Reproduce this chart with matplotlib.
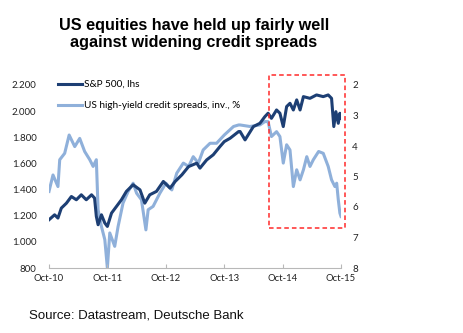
import matplotlib
matplotlib.use("Agg")
import matplotlib.pyplot as plt
import matplotlib.dates as mdates
import pandas as pd
from matplotlib.patches import Rectangle
from matplotlib.ticker import FuncFormatter

title = "US equities have held up fairly well\nagainst widening credit spreads"
source = "Source: Datastream, Deutsche Bank"
label_spx = "S&P 500, lhs"
label_hy = "US high-yield credit spreads, inv., %"

spx_dates = ["2010-10-01", "2010-11-05", "2010-11-26", "2010-12-17", "2011-01-18",
             "2011-02-18", "2011-03-21", "2011-04-21", "2011-05-22", "2011-06-24",
             "2011-07-13", "2011-07-24", "2011-08-04", "2011-08-25", "2011-09-15",
             "2011-10-01", "2011-10-27", "2011-11-27", "2011-12-28", "2012-01-28",
             "2012-03-10", "2012-04-22", "2012-05-22", "2012-06-22", "2012-08-03",
             "2012-09-15", "2012-10-27", "2012-11-28", "2013-01-09", "2013-02-20",
             "2013-04-12", "2013-05-02", "2013-06-13", "2013-07-24", "2013-09-04",
             "2013-10-01", "2013-11-07", "2013-12-30", "2014-01-08", "2014-02-08",
             "2014-04-01", "2014-05-12", "2014-06-12", "2014-07-02", "2014-07-23",
             "2014-08-24", "2014-09-14", "2014-10-05", "2014-10-26", "2014-11-16",
             "2014-12-07", "2014-12-28", "2015-01-18", "2015-02-08", "2015-03-21",
             "2015-05-01", "2015-06-12", "2015-07-13", "2015-08-03", "2015-08-17",
             "2015-08-30", "2015-09-14", "2015-09-24", "2015-10-01"]
spx_values = [1169, 1207, 1182, 1258, 1296,
              1347, 1322, 1360, 1322, 1360,
              1335, 1195, 1131, 1207, 1144,
              1118, 1220, 1271, 1322, 1386,
              1437, 1398, 1296, 1360, 1386,
              1462, 1411, 1462, 1513, 1576,
              1602, 1564, 1627, 1666, 1729,
              1767, 1793, 1844, 1844, 1780,
              1882, 1907, 1958, 1984, 1945,
              2009, 1984, 1882, 2035, 2060,
              2009, 2086, 2009, 2111, 2098,
              2124, 2111, 2124, 2098, 1882,
              1996, 1907, 1984, 1945]

hy_dates = ["2010-10-01", "2010-10-26", "2010-11-26", "2010-12-07", "2011-01-07",
            "2011-02-04", "2011-03-11", "2011-04-11", "2011-05-12", "2011-06-13",
            "2011-07-04", "2011-07-24", "2011-08-04", "2011-08-25", "2011-09-15",
            "2011-10-01", "2011-10-16", "2011-11-16", "2011-12-07", "2012-01-07",
            "2012-02-08", "2012-03-10", "2012-04-01", "2012-05-01", "2012-05-29",
            "2012-06-12", "2012-07-13", "2012-08-24", "2012-10-01", "2012-11-07",
            "2012-12-08", "2013-01-18", "2013-02-20", "2013-03-21", "2013-04-22",
            "2013-05-22", "2013-07-04", "2013-08-14", "2013-10-01", "2013-11-28",
            "2013-12-30", "2014-01-08", "2014-03-10", "2014-05-12", "2014-06-12",
            "2014-07-02", "2014-07-23", "2014-08-24", "2014-09-14", "2014-10-05",
            "2014-10-26", "2014-11-16", "2014-12-07", "2014-12-28", "2015-01-18",
            "2015-02-08", "2015-03-01", "2015-03-21", "2015-04-11", "2015-05-14",
            "2015-06-12", "2015-07-13", "2015-08-03", "2015-08-24", "2015-09-04",
            "2015-09-14", "2015-09-24", "2015-10-01"]
hy_values = [5.49, 4.95, 5.33, 4.45, 4.24,
             3.64, 4.02, 3.75, 4.18, 4.45,
             4.67, 4.45, 6.09, 6.64, 7.07,
             8.00, 6.85, 7.29, 6.64, 5.87,
             5.49, 5.22, 5.55, 5.76, 6.75,
             6.09, 5.98, 5.55, 5.22, 5.44,
             4.89, 4.56, 4.67, 4.35, 4.56,
             4.13, 3.91, 3.91, 3.64, 3.36,
             3.31, 3.31, 3.36, 3.31, 3.20,
             3.20, 3.69, 3.53, 3.69, 4.56,
             3.96, 4.13, 5.33, 4.78, 5.11,
             4.78, 4.35, 4.67, 4.45, 4.18,
             4.24, 4.67, 5.11, 5.33, 5.22,
             5.76, 6.20, 6.31]

x_ticks = ["2010-10-01", "2011-10-01", "2012-10-01", "2013-10-01", "2014-10-01", "2015-10-01"]
x_tick_labels = ["Oct-10", "Oct-11", "Oct-12", "Oct-13", "Oct-14", "Oct-15"]
left_ticks = [800, 1000, 1200, 1400, 1600, 1800, 2000, 2200]
right_ticks = [2, 3, 4, 5, 6, 7, 8]
box_start, box_end = "2014-07-10", "2015-10-25"
box_low, box_high = 1104, 2277

dark = "#1d3f74"
light = "#8fb0da"
tick_font = "Lato"

fig = plt.figure(figsize=(4.64, 3.33), dpi=100)
ax = fig.add_axes([49 / 464, 1 - 268 / 333, (341 - 49) / 464, (268 - 85) / 333])
ax2 = ax.twinx()

ax.plot(pd.to_datetime(spx_dates), spx_values, color=dark, lw=2.2, label=label_spx, zorder=3)
ax2.plot(pd.to_datetime(hy_dates), hy_values, color=light, lw=2.2, label=label_hy, zorder=2)
ax.set_zorder(ax2.get_zorder() + 1)
ax.patch.set_visible(False)

xt = pd.to_datetime(x_ticks)
ax.set_xlim(xt[0], xt[-1])
ax.set_xticks(xt)
ax.set_xticklabels(x_tick_labels, fontsize=6.8, family=tick_font, color="#222222")
ax.set_ylim(800, 2200)
ax.set_yticks(left_ticks)
ax.yaxis.set_major_formatter(FuncFormatter(lambda v, p: f"{int(v):,}".replace(",", ".")))
ax2.set_ylim(8, 2)
ax2.set_yticks(right_ticks)

for a in (ax, ax2):
    for s in ("top", "left", "right"):
        a.spines[s].set_visible(False)
    a.spines["bottom"].set_color("#b8b8b8")
    a.spines["bottom"].set_linewidth(0.8)
ax2.spines["bottom"].set_visible(False)
ax.tick_params(axis="x", direction="in", length=3, color="#b8b8b8", pad=4)
ax.tick_params(axis="y", length=0, pad=9, labelsize=7, labelcolor="#222222")
ax2.tick_params(axis="y", length=0, pad=8, labelsize=7, labelcolor="#222222")
for lab in ax.get_yticklabels() + ax2.get_yticklabels():
    lab.set_family(tick_font)

bx0 = mdates.date2num(pd.Timestamp(box_start))
bx1 = mdates.date2num(pd.Timestamp(box_end))
rect = Rectangle((bx0, box_low), bx1 - bx0, box_high - box_low, fill=False,
                 edgecolor="#ff2a2a", lw=1.1, ls=(0, (3, 2)), clip_on=False, zorder=5)
ax.add_patch(rect)

h1, l1 = ax.get_legend_handles_labels()
h2, l2 = ax2.get_legend_handles_labels()
fig.legend(h1 + h2, l1 + l2, loc="upper left", bbox_to_anchor=(58 / 464, 1 - 80 / 333),
           frameon=False, prop={"family": tick_font, "size": 7.2},
           handlelength=2.4, handletextpad=0.2, labelspacing=1.2, borderpad=0, borderaxespad=0)

fig.text(194 / 464, 1 - 18 / 333, title, ha="center", va="top", fontsize=11.7,
         fontweight="bold", family="Liberation Sans", linespacing=1.15)
fig.text(29 / 464, 1 - 315 / 333, source, ha="left", va="center", fontsize=9.5,
         family="Liberation Sans", color="#111111")

fig.savefig("out.png", dpi=100)
